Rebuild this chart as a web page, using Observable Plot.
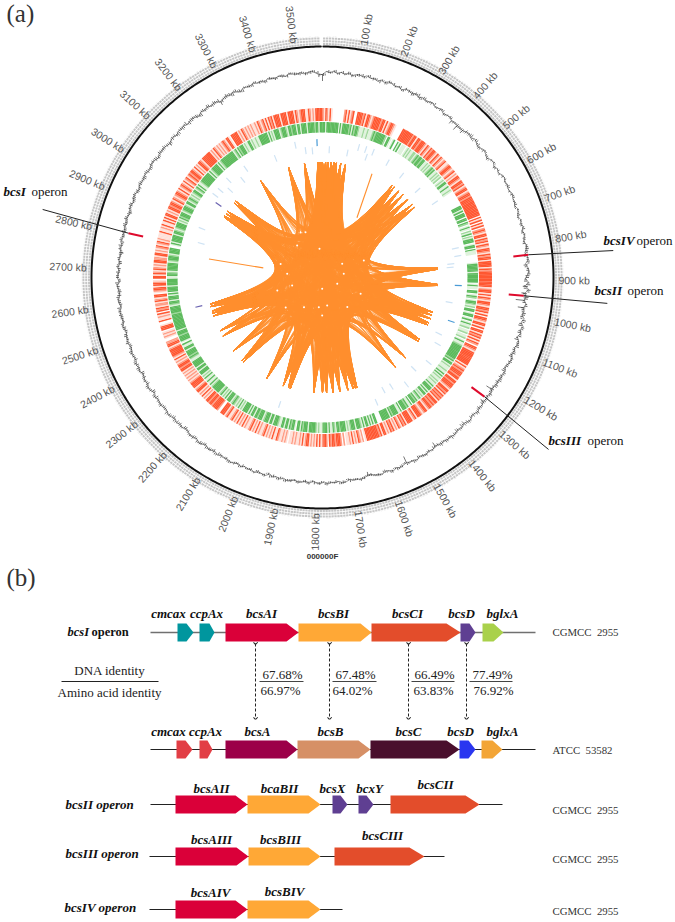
<!DOCTYPE html>
<html><head><meta charset="utf-8">
<style>html,body{margin:0;padding:0;background:#fff}svg{display:block}</style>
<script src="https://cdn.jsdelivr.net/npm/d3@7"></script>
<script src="https://cdn.jsdelivr.net/npm/@observablehq/plot@0.6"></script>
</head><body><div id="chart"></div>
<script>
// ---------- genome map (a) ----------
const genomeKb = 3570;
const tickLabelsKb = [100,200,300,400,500,600,700,800,900,1000,1100,1200,1300,1400,1500,1600,1700,1800,1900,2000,2100,2200,2300,2400,2500,2600,2700,2800,2900,3000,3100,3200,3300,3400,3500];

// Gene track density, one digit per 5 kb (0 none, 1 pale, 2 mid, 3 solid)
const redTrack = [
"21321310000000023131230033332313321233333233131233210000033333333233133233321321323321321321231123321",
"23121332133231233123323333333333333303130313023213313231321332132331333313233333333333123313132133213",
"32313033213313033132313132033213333333333131232333233133233321332313232313323233213321233313213333132",
"31231213231213313233333333310212312131211020233323323023321313121213321312112121101212112311312121321",
"12131213211213121312132113213330023333233233121312133213333212121212133233212131233333213322001212103",
"33100311213032312213213301233133210331321321213322133121231231211113112131131313312133233213212332131",
"23213123123233213121332133333331213212121232133103333312132121212112132123131323133331333313333132123",
"33113212133333"];
const greenTrack = [
"33033333333303133333231323321112112111232333333320331013003130111012121122123233233112121232311212120",
"12133113112100000000000033313033303303201310213021333013303111000000133333313333333013110330132013321",
"20330133013013112011201120131123333333333323133121112113131211212113133313133121321323303113233303113",
"33323133333300003313131331312333133321213333233123113133321121233333133323133013323133133112333133133",
"32133323313313133331213121232133313121321333333213113113121333133133333112323333133113013333233313333",
"33333333233333123313331303333133333113321333333123332133330013133333133212333312132333123332133123212",
"12331231311233333333131233333131233333333333123132333121133121121133333331312133331233321332333133133",
"33133333233133"];

// Offset of the black content curve from its mean radius, one value per 10 kb
const curveOffsets = [
-9,0.5,-0.5,1,-1,0.5,-1,0.5,-1.5,0,0.5,-1,1,-0.5,0,-1.5,0.5,-1,1,0.5,-1,0,-2,0.5,0,-1,0.5,-1.5,0.5,-1,0,1,-1,-0.5,0.5,-2,-1,-0.5,-6,-2,-8,-3,-6,-1,0,-2,0.5,-1,-2.5,-1,
0.5,-1,-3,0,1,-1.5,0.5,-1,1,2,0.5,1.5,0,1,2,0.5,1,-0.5,1.5,0.5,-1,1,0,1.5,-0.5,1,0,-1,1,0.5,-1.5,0.5,1,-2,0,1,-0.5,-3,0.5,-4,1,-6,-1,-11,0,-8,-1,-3,0.5,-2,
1,-1,0.5,-2,0.5,1,-1,0,-1.5,0.5,0,-1,-2,0,-1.5,-0.5,-2,-1,-4,-9,-1,-3,-1.5,-6,-1,-2,0,-1.5,-2,0,-1,-5,-0.5,-2,-1,0,-1.5,-0.5,-2,-1,-3,-7,-1,-2,-0.5,-1,-2,0,-1.5,-1,
-9,-1,0,-1.5,0.5,-1,-2,0,-0.5,-1,-3,-6,-1,0,-1,-0.5,-2,0,1,-1,0,-0.5,1,-1,0.5,0,-1.5,0.5,-1,0,0.5,-1,0,1,-1,0.5,-1,0,-2,0.5,0,-1,1,-0.5,0,-1,0.5,-1,0,1,
-0.5,0,-1,1,-1,0,0.5,-1.5,0,1,-1,0,0.5,-1,-2,0,-1,0.5,-1.5,0,1,-0.5,-1,0.5,0,-1,0.5,-2,0,1,-1,0,-1,-2,0,-1,0.5,-1.5,-1,0,-1,-2,0,-1,-0.5,-2,-1,0,-1.5,-1,
-0.5,0,-2,-1,0,-1.5,-2,-1,0,-2.5,-0.5,-1,-2,-0.5,-3,-1,-2,-5,-1,-2.5,-0.5,-2,-1.5,-3,-1,-2,-0.5,-1.5,-3,-1,-0.5,-2,-1,0,-1.5,-2,-0.5,-1,-1.5,0,-1,-2,-0.5,0,-1,-3,-0.5,-1,-0.5,-1.5,
-5,-1,-0.5,-2,0,-1,0.5,-1.5,-0.5,0,-1,-3,0,-1,0.5,-1,0,-0.5,-6,-1,0,-1.5,0.5,-1,-3,0,-0.5,-1,1,-0.5,0,-1.5,0.5,0,-1,0.5,0,-1,1,0,-0.5,0.5,-1,0,1,-0.5,-5];
const curveMean = 205.5;
// Local thickness (px) of the jagged curve, one digit per 5 kb
const curveGrain = [
"3213212322132132312231321231322132132321321232231324332432332223132213223221321322432332423342233243",
"2132122312121321212131221232121322122321212321213223232132232343223223242232343232453424354232343243",
"3242343234232423342334343242332343234344243243342342343234243242323423242234232432332342322321323232",
"2312321232132232132123212322132213231222132123221321223212321321323212322132232123213232132123221322",
"2132322312323213232242332332342323423232432342323423324233243232432343233423242342342332423234233242",
"3243233423323342324233323424323243233242332432323423242332332432343243234232432343323423243234323423",
"3423243324333423243242334323432424343242342332432343242323423342323232123232213223213223212321322132",
"23213223221321"];
const curveSpikeFloor = -2.5;

// Operon markers: kb, inner and outer radius of the red tick, and the end of the leader
const operonKb = [2805,830,944,1253];
const operonLeaderEndKb = [2813,840,944,1262];
const operonLeaderEndR = [288,292,286,284];
const operonRedInner = [184,192,187,185];
const operonRedOuter = [199,207,202,201];

// Repeat sequence link end points on the genome (kb)
const linkEnds = [3547,3555,3563,3570,15,28,43,56,69,90,114,368,380,411,438,471,505,523,847,852,927,932,1066,1081,1100,1122,1133,1215,1226,1329,1398,1613,1620,1632,1659,1699,1733,1765,1785,1828,1945,1955,1982,2071,2212,2222,2286,2376,2405,2485,2499,2510,2533,2546,2990,2995,3010,3023,3075,3088,3247,3400,3481];
// Two lone links: [outer kb, outer radius, inner kb, inner radius]
const loneLinks = [[2769,115,2769,60],[253,115,297,69]];
// Small white openings inside the dense link core: kb, radius
const coreGapKb = [3366,3189,3511,2737,2531,794,547,1802,1691,2102,1790,1120,2856,670,2519,1120,1388,2290,3313,1855];
const coreGapR  = [48.4,40.8,28.8,35.5,31.4,21.6,24,11.3,28.4,35,38,41.4,44,44.7,47,16,38.6,47.4,50,30];

// Short marks on the innermost track: kb, radius, kind
const smallKb = [3547,3525,3455,3495,3357,3221,3181,3134,3108,3079,3049,3025,30,112,154,185,198,218,293,375,471,559,770,803,833,848,926,1002,1079,1148,1190,1276,1339,1407,1465,1503,1553,2547,1970,2896,2833];
const smallR  = [135,127,135,128,128,133,126,135,127,134,135,127,128,127,135,135,128,135,132,129,129,135,136,137,129,128,136,129,136,129,133,136,129,136,129,128,136,127,134,130,126];
const smallKind = ["s","0","0","0","0","0","0","0","0","0","0","p","0","0","0","0","0","0","0","0","0","0","0","0","0","0","s","0","s","0","0","0","0","0","0","0","0","p","0","0","0"];

// ---------- operon diagrams (b) ----------
const rows = {r1:632,r2:749,r3:804,r4:856,r5:909};
const rowLines = [["r1",150,535,"#707070",1.6],["r2",150,535,"#222",1.2],["r3",150,502,"#222",1],["r4",149,444,"#222",1],["r5",149,342,"#222",1]];
const geneRow   = ["r1","r1","r1","r1","r1","r1","r1","r2","r2","r2","r2","r2","r2","r2","r3","r3","r3","r3","r3","r4","r4","r4","r5","r5"];
const geneStart = [177,199,225,298,371,460,482,176,199,225,297,370,459,481,175,247,332,358,390,175,248,334,175,247];
const geneHead  = [186,209,286,360,446,469,493,185,207,286,358,446,468,492,235,308,340,366,465,236,308,409,235,308];
const geneEnd   = [193,214,298,371,460,475,503,192,212,297,370,459,475,502,247,320,347,373,479,248,320,424,247,320];
const geneColor = ["#00969e","#00969e","#da0039","#ffa836","#e34d2b","#5f3f92","#a9d14b","#e23e45","#e23e45","#9c0048","#d69066","#4a0f2d","#2a36f0","#f3a536","#da0039","#ffa836","#5f3f92","#5f3f92","#e34d2b","#da0039","#ffa836","#e34d2b","#da0039","#ffa836"];
const geneText  = ["cmcax","ccpAx","bcsAI","bcsBI","bcsCI","bcsD","bglxA","cmcax","ccpAx","bcsA","bcsB","bcsC","bcsD","bglxA","bcsAII","bcaBII","bcsX","bcxY","bcsCII","bcsAIII","bcsBIII","bcsCIII","bcsAIV","bcsBIV"];
const geneTextX = [168,206,261,333,407,461,502,168,205,257,330,408,460,502,211,279,332,369,435,211,280,382,210,284];
const geneTextY = [617,617,617,617,617,617,617,735,735,735,735,735,735,735,792,792,792,792,788,843,843,839,896,895];
const pctTop = ["67.68%","67.48%","66.49%","77.49%"];
const pctBottom = ["66.97%","64.02%","63.83%","76.92%"];
const pctTopX = [282,355,434,492];
const pctBottomX = [280,352,433,493];
const pctRuleFrom = [259,332,411,469];
const pctRuleTo = [303,376,454,512];
const arrowX = [255,329,408,466];
const strainText = ["CGMCC  2955","ATCC  53582","CGMCC  2955","CGMCC  2955","CGMCC  2955"];
const strainY = [635,753,813,862,914];
const operonRowText = ["bcsII operon","bcsIII operon","bcsIV operon"];
const operonRowY = [808,857,911];

// ---------- helpers ----------
const CX = 322, CY = 277;
const pol = (kb, r) => { const t = kb / genomeKb * 2 * Math.PI; return {x: CX + r * Math.sin(t), y: CY - r * Math.cos(t)}; };
const radial = (kb, r1, r2, extra = {}) => { const a = pol(kb, r1), b = pol(kb, r2); return {x1: a.x, y1: a.y, x2: b.x, y2: b.y, ...extra}; };
const SANS = "Liberation Sans, Arial, sans-serif", SERIF = "Liberation Serif, Times New Roman, serif";

const redCol = {1:"#ffe0d8",2:"#ff9d85",3:"#ff5731"}, greenCol = {1:"#dff2dc",2:"#a0d89c",3:"#5cba5c"};
function track(strs, colors, r1, r2) {
  const s = strs.join("");
  return Array.from(s).flatMap((c, i) => c === "0" ? [] : [radial((i + 0.5) * genomeKb / s.length, r1, r2, {c: colors[c]})]);
}
const redCells = track(redTrack, redCol, 156.5, 169.5);
const greenCells = track(greenTrack, greenCol, 145, 155.5);

const curve = curveOffsets.map((o, i) => pol(i * genomeKb / curveOffsets.length, curveMean + Math.max(o, curveSpikeFloor)));
curve.push(curve[0]);
const spikes = curveOffsets.flatMap((o, i) => o < curveSpikeFloor ? [radial(i * genomeKb / curveOffsets.length, curveMean + curveSpikeFloor, curveMean + o)] : []);
const grainStr = curveGrain.join("");
const grain = Array.from(grainStr).map((c, i) => {
  const kb = (i + 0.5) * genomeKb / grainStr.length;
  const base = curveMean + Math.max(curveOffsets[Math.floor(kb / genomeKb * curveOffsets.length)], curveSpikeFloor);
  return radial(kb, base - c / 2, base + c / 2);
});

const ringTop = d3.range(2, genomeKb - 1, 6).map(k => pol(k, 231));
const bandTicks = d3.range(4, genomeKb - 3, 7).map(k => radial(k, 232.5, 241));

const ribbon = [];
let lid = 0;
linkEnds.forEach((a, i) => linkEnds.slice(i + 1).forEach(b => {
  lid++;
  const pa = pol(a, 115), pb = pol(b, 115);
  ribbon.push({...pa, id: lid}, {x: CX, y: CY, id: lid}, {...pb, id: lid});
}));
const extraLinks = loneLinks.map(([k1, r1, k2, r2]) => {
  const a = pol(k1, r1), b = pol(k2, r2);
  return {x1: a.x, y1: a.y, x2: b.x, y2: b.y};
});
const coreGaps = coreGapKb.map((k, i) => pol(k, coreGapR[i]));

const smallCol = {"0":"#cfe3f4","s":"#4a9bd6","p":"#6a62b0"};
const smalls = smallKb.map((k, i) => radial(k, smallR[i] - 3.5, smallR[i] + 3.5, {c: smallCol[smallKind[i]]}));

const reds = operonKb.map((k, i) => radial(k, operonRedInner[i], operonRedOuter[i]));
const leaders = operonKb.map((k, i) => {
  const a = pol(k, operonRedOuter[i]), b = pol(operonLeaderEndKb[i], operonLeaderEndR[i]);
  return {x1: a.x, y1: a.y, x2: b.x, y2: b.y};
});

const tickLab = tickLabelsKb.map(k => {
  const th = k / genomeKb * 360, right = th < 180, p = pol(k, 236);
  return {...p, t: k + " kb", rot: right ? th - 90 : th + 90, right};
});

const genePolys = geneStart.flatMap((s, i) => {
  const m = rows[geneRow[i]], h = 9;
  return [[s, m - h], [geneHead[i], m - h], [geneEnd[i], m], [geneHead[i], m + h], [s, m + h]]
    .map(([x, y]) => ({x, y, id: i, c: geneColor[i]}));
});

const txt = (data, o) => Plot.text(data, {lineAnchor: "bottom", textAnchor: "start", ...o});
const I = d3.range(geneText.length);

const chart = Plot.plot({
  width: 675, height: 922, margin: 0,
  x: {axis: null, domain: [0, 675], range: [0, 675]},
  y: {axis: null, domain: [0, 922], range: [0, 922]},
  color: {type: "identity"},
  style: {background: "#fff", fontFamily: SANS},
  marks: [
    // genome map
    Plot.link(bandTicks, {x1: "x1", y1: "y1", x2: "x2", y2: "y2", stroke: "#c6c6c6", strokeWidth: 2.3, strokeDasharray: "2,0.8"}),
    Plot.line(ringTop, {x: "x", y: "y", stroke: "#111", strokeWidth: 2}),
    Plot.link(spikes, {x1: "x1", y1: "y1", x2: "x2", y2: "y2", stroke: "#666", strokeWidth: 0.9}),
    Plot.line(curve, {x: "x", y: "y", stroke: "#444", strokeWidth: 0.6}),
    Plot.link(grain, {x1: "x1", y1: "y1", x2: "x2", y2: "y2", stroke: "#3c3c3c", strokeWidth: 0.75}),
    Plot.link(redCells, {x1: "x1", y1: "y1", x2: "x2", y2: "y2", stroke: "c", strokeWidth: 1.6}),
    Plot.link(greenCells, {x1: "x1", y1: "y1", x2: "x2", y2: "y2", stroke: "c", strokeWidth: 1.6}),
    Plot.link(smalls, {x1: "x1", y1: "y1", x2: "x2", y2: "y2", stroke: "c", strokeWidth: 1.2}),
    Plot.line(ribbon, {x: "x", y: "y", z: "id", curve: "bundle", tension: 0.82, stroke: "#ff8f2e", strokeWidth: 0.6}),
    Plot.dot(coreGaps, {x: "x", y: "y", r: 1, fill: "#fff", stroke: "none"}),
    Plot.link(extraLinks, {x1: "x1", y1: "y1", x2: "x2", y2: "y2", stroke: "#ff8f2e", strokeWidth: 1.1}),
    Plot.link(leaders, {x1: "x1", y1: "y1", x2: "x2", y2: "y2", stroke: "#222", strokeWidth: 1}),
    Plot.link(reds, {x1: "x1", y1: "y1", x2: "x2", y2: "y2", stroke: "#de0a2c", strokeWidth: 2}),
    Plot.text(tickLab.filter(d => d.right), {x: "x", y: "y", text: "t", rotate: "rot", textAnchor: "start", fontSize: 10.5, fill: "#555"}),
    Plot.text(tickLab.filter(d => !d.right), {x: "x", y: "y", text: "t", rotate: "rot", textAnchor: "end", fontSize: 10.5, fill: "#555"}),
    Plot.text(["000000F"], {x: [322], y: [556], text: d => d, fontSize: 8, fontWeight: "bold", fill: "#333"}),
    txt(["(a)"], {x: [6], y: [21], text: d => d, fontSize: 25, fontFamily: SERIF, fill: "#333"}),
    txt(["(b)"], {x: [6], y: [585], text: d => d, fontSize: 25, fontFamily: SERIF, fill: "#333"}),
    txt(["bcsI","bcsIV","bcsII","bcsIII"], {x: [3,603,594,548], y: [195,244,294,444], text: d => d, fontSize: 13, fontFamily: SERIF, fontStyle: "italic", fontWeight: "bold", fill: "#111"}),
    txt(["operon","operon","operon","operon"], {x: [31,636,627,587], y: [195,244,294,444], text: d => d, fontSize: 13, fontFamily: SERIF, fill: "#111"}),
    // operon diagrams
    Plot.link(rowLines, {x1: d => d[1], x2: d => d[2], y1: d => rows[d[0]], y2: d => rows[d[0]], stroke: d => d[3], strokeWidth: d => d[4]}),
    Plot.line(genePolys, {x: "x", y: "y", z: "id", fill: "c", stroke: "none"}),
    txt(I, {x: i => geneTextX[i], y: i => geneTextY[i], text: i => geneText[i], textAnchor: "middle", fontSize: 13, fontFamily: SERIF, fontStyle: "italic", fontWeight: "bold", fill: "#111"}),
    txt(["bcsI"], {x: [67], y: [635], text: d => d, fontSize: 12.5, fontFamily: SERIF, fontStyle: "italic", fontWeight: "bold", fill: "#111"}),
    txt(["operon"], {x: [91], y: [635], text: d => d, fontSize: 12.5, fontFamily: SERIF, fontWeight: "bold", fill: "#111"}),
    txt(operonRowText, {x: [65,65,64], y: operonRowY, text: d => d, fontSize: 13, fontFamily: SERIF, fontStyle: "italic", fontWeight: "bold", fill: "#111"}),
    txt(["DNA identity"], {x: [109], y: [674], text: d => d, textAnchor: "middle", fontSize: 13, fontFamily: SERIF, fill: "#222"}),
    txt(["Amino acid identity"], {x: [109], y: [696], text: d => d, textAnchor: "middle", fontSize: 13, fontFamily: SERIF, fill: "#222"}),
    Plot.link([0], {x1: [61], x2: [158], y1: [681], y2: [681], stroke: "#222", strokeWidth: 1}),
    Plot.link(arrowX, {x1: d => d, x2: d => d, y1: 643, y2: 718, stroke: "#222", strokeWidth: 1, strokeDasharray: "3,2", markerStart: "arrow", markerEnd: "arrow"}),
    Plot.link(pctRuleFrom, {x1: d => d, x2: (d, i) => pctRuleTo[i], y1: 681, y2: 681, stroke: "#444", strokeWidth: 1}),
    txt(pctTop, {x: (d, i) => pctTopX[i], y: 678, text: d => d, textAnchor: "middle", fontSize: 13, fontFamily: SERIF, fill: "#222"}),
    txt(pctBottom, {x: (d, i) => pctBottomX[i], y: 694, text: d => d, textAnchor: "middle", fontSize: 13, fontFamily: SERIF, fill: "#222"}),
    txt(strainText, {x: 552, y: (d, i) => strainY[i], text: d => d, fontSize: 10.8, fontFamily: SERIF, fill: "#333"})
  ]
});
document.getElementById("chart").append(chart);
</script></body></html>
